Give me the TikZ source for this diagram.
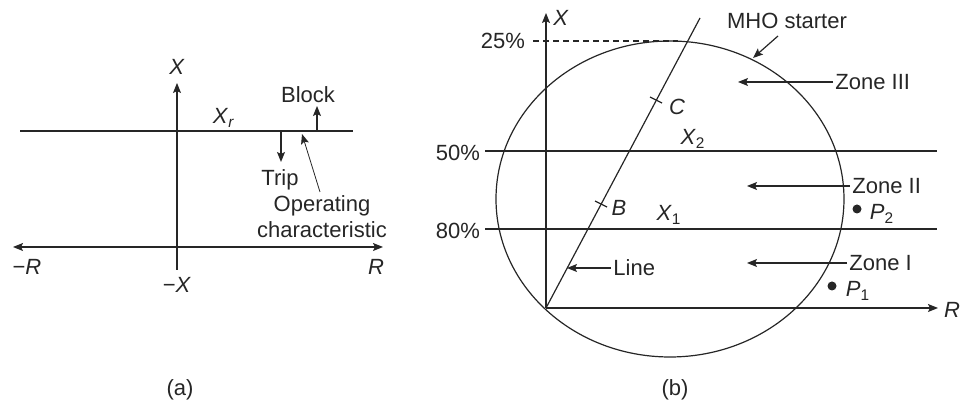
\documentclass[tikz,border=0pt]{standalone}
\usepackage{fontspec}
\setmainfont{Liberation Sans}
\usetikzlibrary{arrows.meta,positioning}
\tikzset{
  ax/.style={line width=.6pt,-{Stealth[length=5pt,width=4pt,inset=1pt]}},
  ln/.style={line width=.6pt},
  lbl/.style={inner sep=1pt,font=\fontsize{11}{13}\selectfont},
  dot/.style={circle,fill,inner sep=0pt,minimum size=4.5pt}
}
\begin{document}
\begin{tikzpicture}[x=.5pt,y=-.5pt,black!85]
\useasboundingbox (0,0) rectangle (960,405);
\coordinate (ao) at (177,247);
\coordinate (ab) at (177,270);
\coordinate (at) at (177,83);
\coordinate (al) at (13,247);
\coordinate (ar) at (383,247);
\coordinate (xr1) at (20,131);
\coordinate (xr2) at (353,131);
\coordinate (bk1) at (317,131);
\coordinate (bk2) at (317,106);
\coordinate (tp1) at (281,131);
\coordinate (tp2) at (281,162);
\coordinate (oc1) at (320,192);
\coordinate (oc2) at (302,134);
\node[lbl] (xa) at (177,67) {\textit{X}};
\node[lbl] (mxa) at (177,285) {−\textit{X}};
\node[lbl] (mra) at (27,267) {−\textit{R}};
\node[lbl] (ra) at (376,267) {\textit{R}};
\node[lbl] (xrl) at (224,118) {\textit{X}\textsubscript{\textit{r}}};
\node[lbl] (block) at (308,95) {Block};
\node[lbl] (trip) at (280,180) {Trip};
\node[lbl,align=center] (opch) at (322,217) {Operating\\characteristic};
\node[lbl] (capa) at (180,390) {(a)};
\draw[ax] (ab) -- (at);
\draw[ln,{Stealth[length=5pt,width=4pt,inset=1pt]}-{Stealth[length=5pt,width=4pt,inset=1pt]}] (al) -- (ar);
\draw[ln] (xr1) -- (xr2);
\draw[ax] (bk1) -- (bk2);
\draw[ax] (tp1) -- (tp2);
\draw[ax,line width=.4pt] (oc1) -- (oc2);
\coordinate (bo) at (546,308);
\coordinate (bt) at (546,13);
\coordinate (br) at (938,308);
\coordinate (lt) at (700,18);
\coordinate (p25a) at (533,41);
\coordinate (p25b) at (678,41);
\coordinate (p50a) at (485,151);
\coordinate (p50b) at (937,151);
\coordinate (p80a) at (485,229);
\coordinate (p80b) at (937,229);
\coordinate (c1) at (650,97);
\coordinate (c2) at (662,103);
\coordinate (b1) at (595,201);
\coordinate (b2) at (607,207);
\coordinate (lnp) at (567,268);
\coordinate (mh1) at (778,36);
\coordinate (mh2) at (753,58);
\coordinate (z3) at (738,82);
\coordinate (z2) at (747,186);
\coordinate (z1) at (747,263);
\node[lbl] (xb) at (561,18) {\textit{X}};
\node[lbl] (rb) at (952,310) {\textit{R}};
\node[lbl] (l25) at (503,41) {25\%};
\node[lbl] (l50) at (458,153) {50\%};
\node[lbl] (l80) at (458,231) {80\%};
\node[lbl] (cl) at (677,107) {\textit{C}};
\node[lbl] (bl) at (619,208) {\textit{B}};
\node[lbl] (x2l) at (693,139) {\textit{X}\textsubscript{2}};
\node[lbl] (x1l) at (669,215) {\textit{X}\textsubscript{1}};
\node[lbl] (mho) at (787,21) {MHO starter};
\node[lbl,anchor=west] (zthree) at (833,82) {Zone III};
\node[lbl,anchor=west] (ztwo) at (850,186) {Zone II};
\node[lbl,anchor=west] (zone) at (847,263) {Zone I};
\node[lbl,anchor=west] (linel) at (611,268) {Line};
\node[dot] (p2) at (857,209) {};
\node[dot] (p1) at (832,286) {};
\node[lbl] (p2l) at (882,214) {\textit{P}\textsubscript{2}};
\node[lbl] (p1l) at (858,291) {\textit{P}\textsubscript{1}};
\node[lbl] (capb) at (675,390) {(b)};
\draw[ln] (670,199) ellipse [x radius=174,y radius=158];
\draw[ax] (bo) -- (bt);
\draw[ax] (bo) -- (br);
\draw[ln] (bo) -- (lt);
\draw[ln,dashed,dash pattern=on 3pt off 2pt] (p25a) -- (p25b);
\draw[ln] (p50a) -- (p50b);
\draw[ln] (p80a) -- (p80b);
\draw[ln] (c1) -- (c2);
\draw[ln] (b1) -- (b2);
\draw[ax] (mh1) -- (mh2);
\draw[ax] (zthree.west) -- (z3);
\draw[ax] (ztwo.west) -- (z2);
\draw[ax] (zone.west) -- (z1);
\draw[ax] (linel.west) -- (lnp);
\end{tikzpicture}
\end{document}
